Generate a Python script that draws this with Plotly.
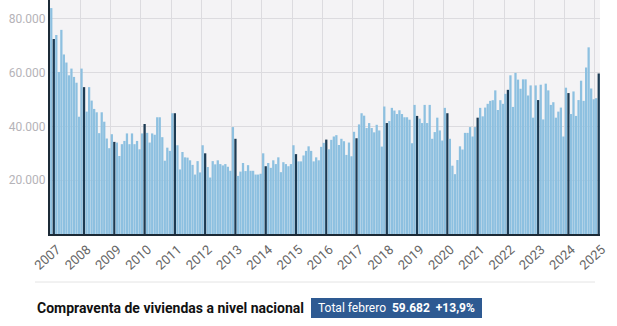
import plotly.graph_objects as go

# Monthly home sales (compraventa de viviendas), Jan 2007 - Feb 2025
y2007 = [84000, 72500, 74000, 60250, 75900, 66750, 63750, 59000, 61500, 58400, 56250, 43600]
y2008 = [61500, 54600, 45500, 54600, 49600, 46500, 45250, 37500, 45250, 41750, 35500, 31900]
y2009 = [37100, 34250, 34000, 29000, 33400, 34600, 37400, 33400, 37400, 33400, 34600, 31500]
y2010 = [37400, 40900, 37600, 34000, 37400, 36900, 43400, 43400, 36000, 27250, 32100, 30900]
y2011 = [44900, 44900, 33000, 24000, 30500, 28500, 28400, 27400, 25700, 22100, 27100, 22900]
y2012 = [33000, 30000, 24900, 21000, 27100, 25900, 27400, 26000, 25500, 26000, 25000, 23500]
y2013 = [39750, 35400, 21600, 23200, 26400, 23400, 25600, 23500, 23500, 22100, 22100, 22400]
y2014 = [30000, 25200, 26400, 24600, 27400, 26000, 28500, 23000, 26700, 26000, 25200, 26000]
y2015 = [33000, 29700, 27000, 27000, 29200, 30900, 32600, 30900, 27000, 28500, 27400, 32400]
y2016 = [33900, 35100, 31500, 35000, 36250, 36750, 33100, 35400, 34500, 29400, 34000, 28900]
y2017 = [38000, 35600, 40750, 44900, 44000, 39400, 41250, 39400, 37800, 40600, 38500, 32500]
y2018 = [47400, 41250, 42000, 46900, 45900, 44600, 46000, 44600, 43400, 43400, 42500, 33750]
y2019 = [48000, 43900, 42900, 41250, 48000, 41250, 48000, 35400, 37900, 43250, 38500, 34750]
y2020 = [46900, 44900, 35400, 25400, 22250, 27500, 32600, 31400, 37600, 37600, 39750, 36250]
y2021 = [39750, 43250, 46900, 43750, 47000, 48400, 49500, 49750, 53400, 46100, 49750, 48400]
y2022 = [52100, 53600, 59000, 47250, 59900, 57400, 54000, 57500, 57500, 51500, 55250, 43250]
y2023 = [55250, 49800, 55500, 42600, 55900, 53400, 48000, 49000, 43250, 45500, 47000, 36250]
y2024 = [54400, 52400, 44600, 53000, 43900, 49800, 57000, 49500, 61900, 69400, 54100, 50100]
y2025 = [50500, 59682]

year_labels = [str(y) for y in range(2007, 2026)]
series = (y2007 + y2008 + y2009 + y2010 + y2011 + y2012 + y2013 + y2014 + y2015
          + y2016 + y2017 + y2018 + y2019 + y2020 + y2021 + y2022 + y2023 + y2024 + y2025)

idx = list(range(len(series)))
light = "#8dc0e0"
dark = "#1c3a52"
colors = [dark if i % 12 == 1 else light for i in idx]

fig = go.Figure()
fig.add_trace(go.Bar(
    x=idx, y=series,
    marker=dict(color=colors, line=dict(width=0)),
    hoverinfo="skip",
))

W, H = 617, 326
ml, mr, mt, mb = 50, 17, 0, 92
pw, ph = W - ml - mr, H - mt - mb

def px(xp):
    return (xp - ml) / pw

def py(yp):
    return (H - mb - yp) / ph

fig.update_layout(
    width=W, height=H,
    margin=dict(l=ml, r=mr, t=mt, b=mb),
    paper_bgcolor="white",
    plot_bgcolor="#f4f3f5",
    bargap=0.1,
    separators=",.",
    showlegend=False,
    font=dict(family="Roboto", color="#222"),
    xaxis=dict(
        range=[-0.5, len(series) - 0.5],
        tickmode="array",
        tickvals=[12 * k - 0.5 for k in range(len(year_labels))],
        ticktext=year_labels,
        tickangle=-42,
        ticklabelshift=7,
        ticklabelstandoff=1,
        tickfont=dict(size=13, color="#666666", family="Roboto"),
        showgrid=True, gridcolor="#dcdbdf", gridwidth=1,
        showline=True, linecolor="#1c2a36", linewidth=2,
        ticks="", zeroline=False,
    ),
    yaxis=dict(
        range=[0, 87000],
        tickvals=[20000, 40000, 60000, 80000],
        tickformat=",.0f",
        tickfont=dict(size=12, color="#b5b3b8", family="Roboto"),
        showgrid=True, gridcolor="#dcdbdf", gridwidth=1,
        showline=True, linecolor="#1c2a36", linewidth=2,
        ticks="", zeroline=False,
    ),
    shapes=[
        dict(type="line", xref="paper", yref="paper",
             x0=px(35), x1=px(595), y0=py(282), y1=py(282),
             line=dict(color="#e4e4e4", width=1)),
        dict(type="rect", xref="paper", yref="paper",
             x0=px(311), x1=px(482), y0=py(318), y1=py(298),
             fillcolor="#2e5a92", line=dict(width=0)),
    ],
    annotations=[
        dict(xref="paper", yref="paper", x=px(35), y=py(308),
             xanchor="left", yanchor="middle", showarrow=False,
             text="<b>Compraventa de viviendas a nivel nacional</b>",
             font=dict(size=14, color="#111", family="Roboto")),
        dict(xref="paper", yref="paper", x=px(396.5), y=py(308),
             xanchor="center", yanchor="middle", showarrow=False,
             text="Total febrero  <b>59.682</b>  <b>+13,9%</b>",
             font=dict(size=12, color="white", family="Roboto")),
    ],
)

fig.write_html("out.html", config={"displayModeBar": False})
